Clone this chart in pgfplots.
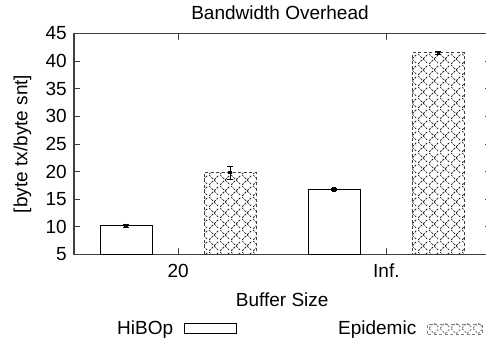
\documentclass[border=0pt]{standalone}
\usepackage{pgfplots}
\pgfplotsset{compat=1.18}
\usepackage{fontspec}
\setmainfont{Liberation Sans}
\usetikzlibrary{patterns.meta}

\tikzdeclarepattern{
  name=dashdiamond,
  type=uncolored,
  bounding box={(0pt,0pt) and (11pt,11pt)},
  tile size={(11pt,11pt)},
  code={
    \draw[line width=0.9pt, dash pattern=on 2.4pt off 1.5pt] (0pt,0pt) -- (11pt,11pt);
    \draw[line width=0.9pt, dash pattern=on 2.4pt off 1.5pt] (0pt,11pt) -- (11pt,0pt);
  }
}

\newcommand{\ff}{\fontsize{19}{22}\selectfont}

\begin{document}
\begin{tikzpicture}
\begin{axis}[
  name=ax,
  scale only axis,
  width=416.5pt, height=220.8pt,
  xmin=-0.5, xmax=1.5, ymin=5, ymax=45,
  ytick={5,10,...,45},
  xtick={0,1}, xticklabels={20,Inf.},
  ybar, bar width=0.25, bar shift=0pt,
  tick align=inside,
  major tick length=6pt,
  axis line style={draw=black!75, line width=1.1pt},
  tick style={black!75, line width=0.8pt},
  /pgf/number format/assume math mode=true,
  every tick label/.append style={font=\ff},
  yticklabel style={inner sep=0pt, xshift=-7pt},
  xticklabel style={anchor=base, yshift=-22.7pt},
  title=Bandwidth Overhead,
  title style={at={(axis description cs:0.4946,1)}, anchor=base, yshift=8.5pt, font=\ff, inner sep=0pt},
  xlabel=Buffer Size,
  xlabel style={at={(axis description cs:0.5,0)}, anchor=base, yshift=-51.7pt, font=\ff, inner sep=0pt},
  ylabel={[byte tx/byte snt]},
  ylabel style={at={(axis description cs:-0.1236,0.5)}, anchor=center, font=\ff, inner sep=0pt},
  legend columns=2,
  legend plot pos=right,
  legend style={at={(axis description cs:0.1032,0)}, anchor=north west, yshift=-66.7pt,
    draw=none, fill=none, inner sep=0pt, font=\ff,
    /tikz/column sep=11pt,
    /tikz/every even column/.append style={column sep=101pt},
    nodes={inner sep=0pt}},
  error bars/error bar style={solid, black, line width=0.8pt},
  error bars/error mark options={rotate=90, mark size=3pt, black, solid, line width=0.8pt},
]
\addplot[draw=black, line width=1pt, fill=white,
  mark=square*, mark size=1.6pt, mark options={black, solid},
  legend image code/.code={\draw[draw=black, fill=white, line width=1pt] (0pt,-5pt) rectangle (52pt,5pt);},
  error bars/.cd, y dir=both, y explicit]
  coordinates {(-0.25,10.2) +- (0,0.3) (0.75,16.75) +- (0,0.2)};
\addlegendentry{HiBOp}
\addplot[draw=black!75, line width=0.9pt, dash pattern=on 3pt off 2.5pt,
  pattern=dashdiamond, pattern color=black!85,
  mark=square*, mark size=1.3pt, mark options={black, solid},
  legend image code/.code={\draw[draw=black!50, line width=0.6pt, dash pattern=on 3pt off 2.5pt, pattern=dashdiamond, pattern color=black!50] (0pt,-5pt) rectangle (55pt,5pt);},
  error bars/.cd, y dir=both, y explicit]
  coordinates {(0.25,19.8) +- (0,1.15) (1.25,41.5) +- (0,0.2)};
\addlegendentry{Epidemic}
\end{axis}
\pgfresetboundingbox
\path[use as bounding box] (ax.south west) ++(-74pt,-83.7pt) rectangle ++(486pt,338pt);
\end{tikzpicture}
\end{document}
